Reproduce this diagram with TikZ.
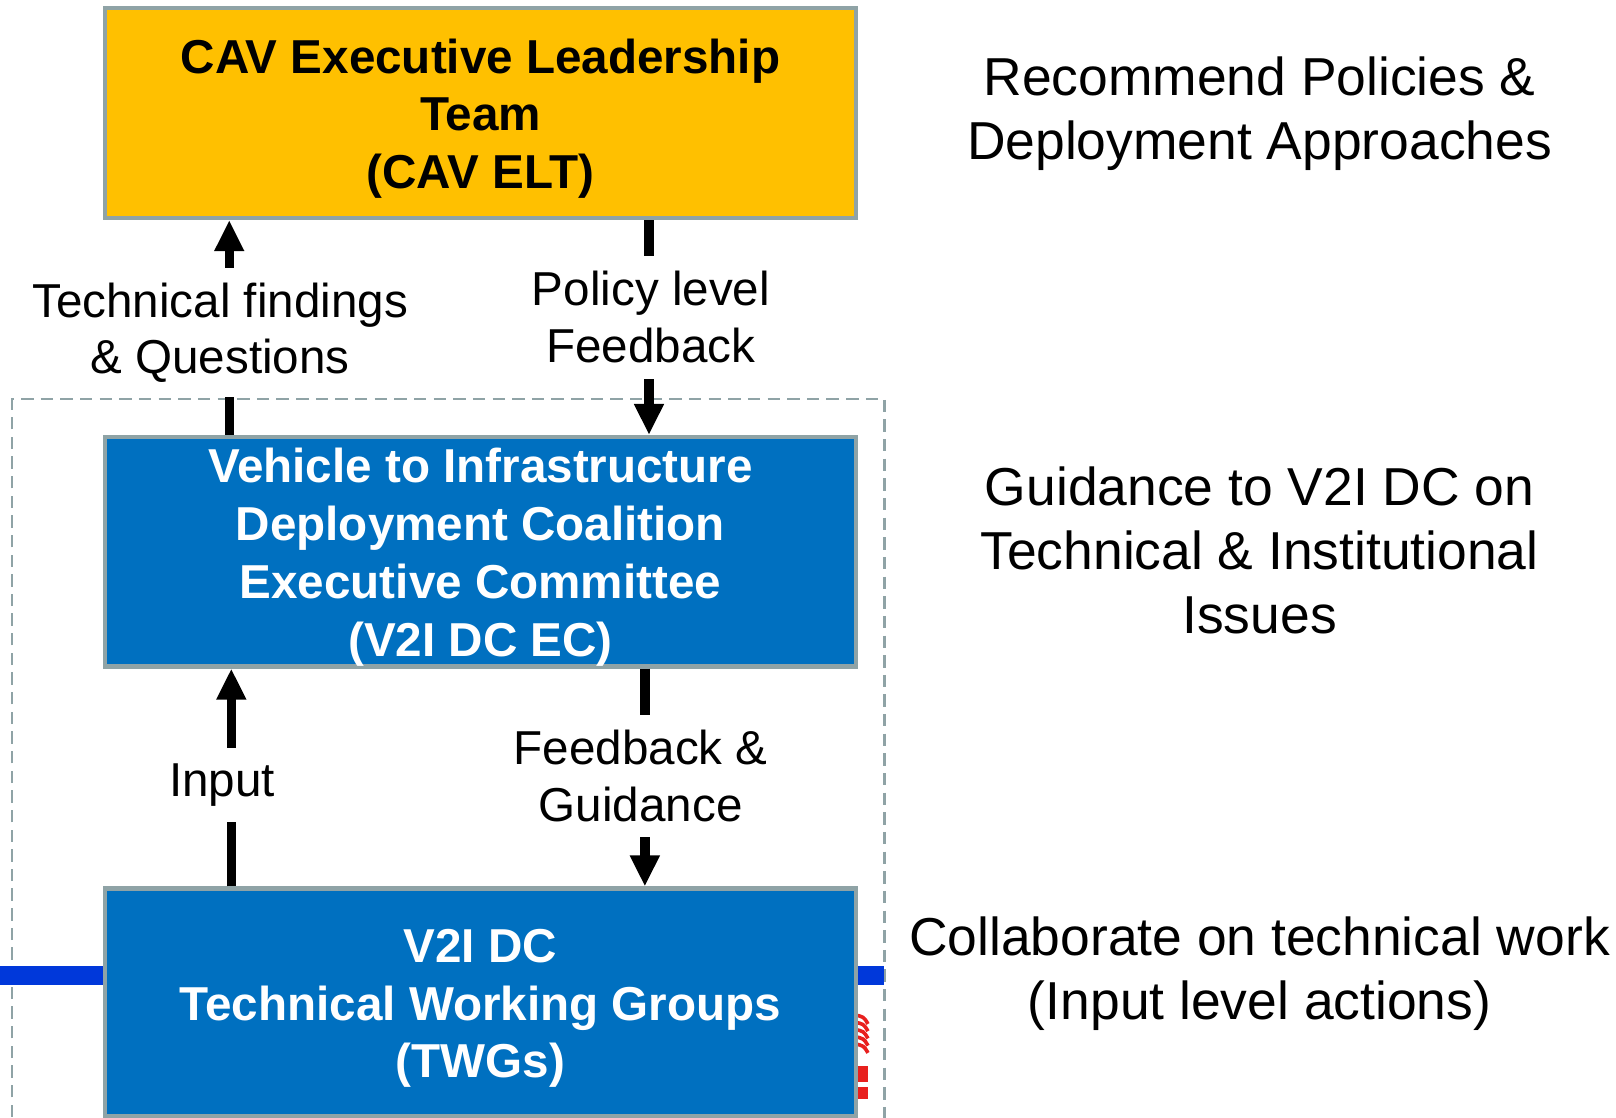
\documentclass[tikz,border=0pt]{standalone}
\usepackage{fontspec}
\setmainfont{Liberation Sans}
\usetikzlibrary{arrows.meta}
\definecolor{eltyellow}{HTML}{FFC000}
\definecolor{v2iblue}{HTML}{0070C0}
\definecolor{boxgray}{HTML}{8FA3A6}
\definecolor{linkblue}{HTML}{0038DA}
\definecolor{flagred}{HTML}{E8201E}
\newcommand\boxstrut{\rule{0pt}{0.44cm}}
\begin{document}
\begin{tikzpicture}[x=0.01cm,y=-0.01cm,
  box/.style={draw=boxgray, line width=0.04cm, minimum width=7.26cm, inner sep=0pt, align=center, font=\fontsize{13.1}{15.9}\selectfont\bfseries},
  flow/.style={line width=0.09cm, -{Triangle[width=0.27cm,length=0.3cm]}},
  lbl/.style={fill=white, align=center, inner xsep=2pt, inner ysep=0.15cm, font=\fontsize{13.1}{15.6}\selectfont},
  side/.style={align=center, font=\fontsize{14.7}{17.6}\selectfont}]
\useasboundingbox (0,0) rectangle (1564,1082);
% dashed frame round the coalition
\draw[boxgray, line width=0.02cm, dash pattern=on 0.12cm off 0.07cm] (12,1100) -- (12,386) -- (856,386) -- (856,1100);
\draw[linkblue, line width=0.18cm] (0,944) -- (856,944);
\foreach \y in {982,989,...,1010} \draw[flagred, line width=0.035cm] (826,\y) .. controls (836,\y+2) .. (840,\y+9);
\fill[flagred] (826,1032) rectangle (840,1047);
\fill[flagred] (826,1052) rectangle (840,1064);
% boxes
\node[box, fill=eltyellow, minimum height=2.03cm] (elt) at (465,109.5) {\boxstrut CAV Executive Leadership\\Team\\(CAV ELT)};
\node[box, fill=v2iblue, text=white, minimum height=2.22cm] (ec) at (465,534) {\boxstrut Vehicle to Infrastructure\\Deployment Coalition\\Executive Committee\\(V2I DC EC)};
\node[box, fill=v2iblue, text=white, minimum height=2.20cm] (twg) at (465,970) {\boxstrut V2I DC\\Technical Working Groups\\(TWGs)};
% connectors
\draw[flow] ([xshift=-2.43cm]ec.north) -- ([xshift=-2.43cm]elt.south);
\draw[flow] ([xshift=1.63cm]elt.south) -- ([xshift=1.63cm]ec.north);
\draw[flow] ([xshift=-2.41cm]twg.north) -- ([xshift=-2.41cm]ec.south);
\draw[flow] ([xshift=1.59cm]ec.south) -- ([xshift=1.59cm]twg.north);
\node[lbl, inner ysep=0.14cm] (findings) at (213,322) {Technical findings\\\& Questions};
\node[lbl] (policyfb) at (630,307) {Policy level\\Feedback};
\node[lbl] (input) at (215,760) {Input};
\node[lbl] (guidance) at (620,751) {Feedback \&\\Guidance};
% roles
\node[side] (eltrole) at (1219,110) {Recommend Policies \&\\Deployment Approaches};
\node[side] (ecrole) at (1219,533) {Guidance to V2I DC on\\Technical \& Institutional\\Issues};
\node[side] (twgrole) at (1219,942) {Collaborate on technical work\\(Input level actions)};
\end{tikzpicture}
\end{document}
